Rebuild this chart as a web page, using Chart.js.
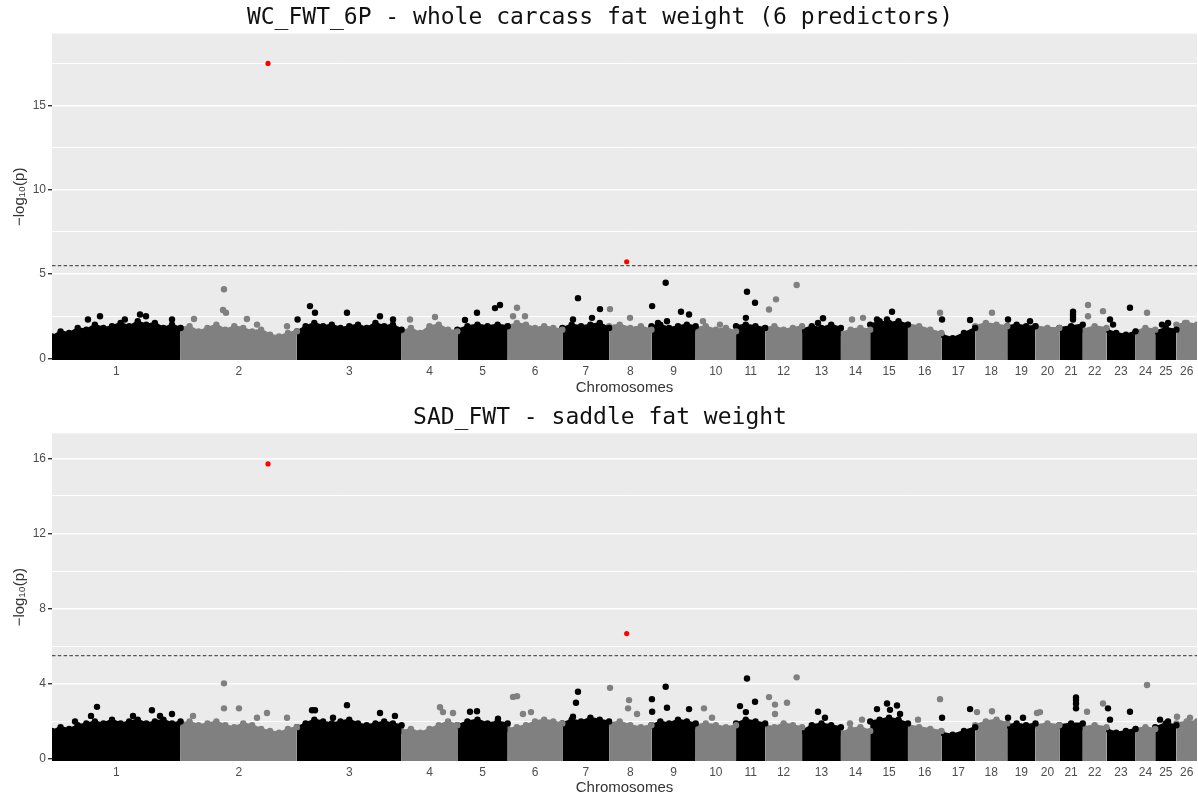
<!DOCTYPE html>
<html>
<head>
<meta charset="utf-8">
<script src="https://cdn.jsdelivr.net/npm/chart.js@4.4.0/dist/chart.umd.min.js"></script>
<style>
html, body { margin: 0; padding: 0; background: #ffffff; overflow: hidden; }
#wrap { position: relative; width: 1198px; height: 799px; overflow: hidden; }
canvas { position: absolute; left: 0; }
</style>
</head>
<body>
<div id="wrap">
<canvas id="wc-chart" width="1201" height="399" style="top:0px"></canvas>
<canvas id="sad-chart" width="1201" height="400" style="top:399px"></canvas>
</div>
<script>
var chromosomes = ['1', '2', '3', '4', '5', '6', '7', '8', '9', '10', '11', '12', '13',
    '14', '15', '16', '17', '18', '19', '20', '21', '22', '23', '24', '25', '26'];
// chromosome lengths in Mb
var chrLengths = [275.4, 249.0, 224.3, 119.3, 107.9, 117.0, 100.1, 90.7, 94.7, 86.5, 62.3, 79.1, 83.1,
    62.7, 80.9, 71.7, 72.3, 68.6, 60.5, 51.2, 50.1, 50.8, 62.3, 42.0, 45.4, 44.1];
var threshold = 5.5;

// top of the dense SNP cloud along each chromosome, -log10(p)
var wcProfile = [
    [1.3, 1.6, 1.5, 1.8, 1.7, 2.0, 1.8, 1.9, 2.1, 1.9, 2.2, 2.0, 2.1, 1.8, 2.0, 1.8],
    [1.8, 1.9, 1.6, 1.8, 2.0, 1.7, 1.9, 1.8, 1.6, 1.7, 1.4, 1.3, 1.5, 1.6],
    [1.6, 1.9, 2.1, 1.9, 2.0, 1.8, 1.9, 2.0, 1.8, 2.1, 1.9, 2.0, 1.7],
    [1.6, 1.8, 1.5, 1.9, 2.0, 1.7, 1.6],
    [1.7, 1.9, 2.0, 1.9, 2.0, 1.9],
    [1.9, 2.1, 2.0, 1.8, 1.9, 1.8, 1.7],
    [1.8, 2.0, 1.9, 2.0, 2.1, 1.8],
    [1.9, 2.0, 1.8, 1.9, 1.7],
    [1.9, 2.0, 1.8, 1.9, 2.0, 1.9],
    [1.8, 1.9, 1.7, 1.8, 1.6],
    [1.9, 2.0, 1.9, 1.8],
    [1.8, 1.9, 1.7, 1.8, 1.9],
    [1.7, 1.9, 1.8, 2.0, 1.8],
    [1.5, 1.7, 1.8, 1.7],
    [2.0, 2.2, 2.1, 2.2, 2.0],
    [2.0, 1.9, 1.7, 1.5],
    [1.4, 1.2, 1.5, 1.8],
    [1.9, 2.1, 2.0, 1.9],
    [1.9, 2.0, 1.9, 1.9],
    [1.9, 1.8, 1.8],
    [1.8, 1.9, 2.0],
    [1.7, 1.9, 1.8],
    [1.7, 1.5, 1.4, 1.6],
    [1.6, 1.8, 1.7],
    [1.6, 1.8, 1.7],
    [2.0, 2.1, 2.0]
];
// [chromosome, position Mb, -log10(p)]
var wcPeaks = [
    [1, 102.8, 2.5], [1, 188.5, 2.6], [1, 201.3, 2.5], [1, 257, 2.3], [1, 77, 2.3], [1, 156, 2.3],
    [2, 92.9, 4.1], [2, 90.8, 2.87], [2, 97.2, 2.7], [2, 28.7, 2.33], [2, 142, 2.33], [2, 163.6, 2.0], [2, 227.9, 1.9],
    [3, 28.1, 3.1], [3, 38.8, 2.7], [3, 1.5, 2.3], [3, 107.3, 2.7], [3, 178, 2.5], [3, 205.9, 2.3],
    [4, 18, 2.3], [4, 71.5, 2.45],
    [5, 16.4, 2.27], [5, 42.1, 2.7], [5, 80.7, 2.98], [5, 91.4, 3.16],
    [6, 19.9, 3.0], [6, 11.4, 2.5], [6, 37, 2.5],
    [7, 33.5, 3.57], [7, 80.6, 2.92], [7, 63.5, 2.4], [7, 22.8, 2.3],
    [8, 2, 2.92], [8, 44.8, 2.4],
    [9, 30.5, 4.48], [9, 1.5, 3.1], [9, 63.3, 2.76], [9, 80.5, 2.6], [9, 14, 2.1], [9, 33.3, 2.2],
    [10, 15.6, 2.2], [10, 52, 2.0],
    [11, 23.4, 3.95], [11, 40.6, 3.3], [11, 21, 2.4],
    [12, 67.5, 4.35], [12, 23.3, 3.5], [12, 8.3, 2.9],
    [13, 44.8, 2.38], [13, 34.1, 2.1],
    [14, 23.8, 2.3], [14, 47.4, 2.4],
    [15, 46.8, 2.76], [15, 36.1, 2.3], [15, 14.6, 2.3],
    [16, 68.7, 2.7],
    [17, 1.3, 2.3], [17, 61.3, 2.27],
    [18, 36, 2.7],
    [19, 1.7, 2.3], [19, 48.8, 2.2],
    [21, 29.2, 2.76], [21, 29.2, 2.6], [21, 29.2, 2.45], [21, 29.2, 2.3],
    [22, 11.2, 3.16], [22, 11.2, 2.5], [22, 43.3, 2.8],
    [23, 50.3, 3.0], [23, 7.5, 2.3], [23, 14, 2.0],
    [24, 24.5, 2.7],
    [25, 14.5, 2.0], [25, 27.5, 2.1],
    [26, 18.4, 2.1]
];
var wcHits = [[2, 187.2, 17.5], [8, 37.7, 5.73]];

var sadProfile = [
    [1.5, 1.7, 1.6, 1.8, 1.9, 2.0, 1.9, 2.1, 1.9, 2.0, 2.1, 1.9, 2.0, 2.1, 1.9, 2.0],
    [1.9, 2.0, 1.8, 1.9, 2.0, 1.8, 1.7, 1.9, 1.8, 1.6, 1.5, 1.4, 1.6, 1.7],
    [1.7, 1.9, 2.1, 2.0, 1.9, 2.0, 2.1, 1.9, 1.8, 1.9, 2.0, 1.9, 1.8],
    [1.5, 1.6, 1.4, 1.6, 1.8, 2.0, 1.8],
    [1.8, 2.0, 2.1, 1.9, 2.0, 1.9],
    [1.6, 1.7, 1.8, 2.0, 2.1, 2.0, 1.9],
    [1.9, 2.1, 2.0, 2.2, 2.1, 2.0],
    [1.9, 2.0, 1.8, 1.7, 1.8],
    [1.8, 2.0, 1.9, 2.1, 2.0, 1.9],
    [1.8, 1.9, 1.8, 1.7, 1.8],
    [1.9, 2.1, 2.0, 1.9],
    [1.8, 1.7, 1.9, 1.8, 1.7],
    [1.5, 1.8, 1.9, 1.8, 1.7],
    [1.4, 1.6, 1.7, 1.5],
    [2.0, 2.1, 2.2, 2.1, 1.9],
    [1.8, 1.7, 1.6, 1.5],
    [1.4, 1.3, 1.5, 1.7],
    [1.8, 2.0, 2.1, 1.9],
    [1.8, 1.9, 1.8, 1.9],
    [1.8, 1.9, 1.8],
    [1.8, 1.9, 1.9],
    [1.7, 1.8, 1.7],
    [1.6, 1.4, 1.5, 1.6],
    [1.6, 1.7, 1.6],
    [1.7, 1.9, 1.8],
    [1.9, 2.0, 2.0]
];
var sadPeaks = [
    [1, 96.4, 2.78], [1, 214, 2.6], [1, 257, 2.4], [1, 173.5, 2.3], [1, 231.3, 2.3], [1, 49.3, 2.0], [1, 83.5, 2.3],
    [2, 92.9, 4.03], [2, 92.9, 2.7], [2, 125, 2.7], [2, 185, 2.45], [2, 163.6, 2.2], [2, 227.9, 2.2], [2, 26.6, 2.3],
    [3, 107.3, 2.87], [3, 32.4, 2.6], [3, 38.8, 2.6], [3, 178, 2.45], [3, 77.4, 2.2], [3, 210, 2.3],
    [4, 82.2, 2.76], [4, 88.6, 2.5], [4, 110, 2.45],
    [5, 27.1, 2.52], [5, 42.1, 2.55], [5, 87.1, 2.15],
    [6, 11.4, 3.31], [6, 19.9, 3.35], [6, 32.7, 2.4], [6, 49.9, 2.5],
    [7, 33.5, 3.58], [7, 29.2, 3.0], [7, 22.8, 2.25],
    [8, 2, 3.79], [8, 42.7, 3.14], [8, 40.6, 2.7], [8, 59.8, 2.4],
    [9, 30.5, 3.85], [9, 1, 3.19], [9, 1.5, 2.52], [9, 33.3, 2.73], [9, 80.5, 2.66],
    [10, 17.8, 2.7], [10, 35, 2.2],
    [11, 23.4, 4.29], [11, 40.6, 3.05], [11, 8.5, 2.82], [11, 21, 2.5],
    [12, 67.5, 4.35], [12, 8.3, 3.3], [12, 21.1, 2.9], [12, 46.8, 3.0], [12, 21.1, 2.4],
    [13, 34.1, 2.52], [13, 49, 2.2],
    [14, 19.5, 1.9], [14, 45.2, 2.1],
    [15, 36.1, 2.96], [15, 57.5, 2.85], [15, 14.6, 2.66], [15, 42.5, 2.62], [15, 64, 2.4],
    [16, 68.7, 3.19], [16, 21.5, 2.1],
    [17, 1.3, 2.2], [17, 61.3, 2.66],
    [18, 3.9, 2.5], [18, 36, 2.55],
    [19, 1.7, 2.2], [19, 33.8, 2.2],
    [20, 3.3, 2.45], [20, 9.7, 2.5],
    [21, 35.6, 3.28], [21, 35.6, 3.15], [21, 35.6, 2.95], [21, 35.6, 2.7],
    [22, 9.1, 2.52], [22, 43.3, 2.96],
    [23, 3.2, 2.7], [23, 50.3, 2.52], [23, 7.5, 2.1],
    [24, 24.5, 3.94],
    [25, 10.3, 2.1], [25, 27.5, 2.0],
    [26, 1.3, 2.25], [26, 29, 2.2]
];
var sadHits = [[2, 187.2, 15.7], [8, 37.7, 6.68]];

var chrStarts = [];
var genomeLength = 0;
chrLengths.forEach(function (len) {
    chrStarts.push(genomeLength);
    genomeLength += len;
});
var chrCentres = chrStarts.map(function (s, i) { return s + chrLengths[i] / 2; });

var tickColor = '#4d4d4d';
var titleColor = '#333333';

function chrColour(i) {
    return i % 2 === 0 ? '#000000' : '#808080';
}

function toPoints(list) {
    return list.map(function (p) {
        return { x: chrStarts[p[0] - 1] + p[1], y: p[2] };
    });
}

var panelBackground = {
    id: 'panelBackground',
    beforeDraw: function (chart) {
        var a = chart.chartArea;
        var ctx = chart.ctx;
        ctx.save();
        ctx.fillStyle = '#ebebeb';
        ctx.fillRect(a.left, a.top, a.right - a.left, a.bottom - a.top);
        ctx.restore();
    }
};

function makeChart(id, setup) {
    var datasets = [
        {
            data: toPoints(setup.hits),
            showLine: false,
            pointRadius: 2.6,
            pointBackgroundColor: '#ff0000',
            pointBorderWidth: 0
        },
        {
            data: [{ x: 0, y: threshold }, { x: genomeLength, y: threshold }],
            borderColor: '#555555',
            borderWidth: 1.2,
            borderDash: [3.5, 2.3],
            pointRadius: 0
        },
        {
            data: toPoints(setup.peaks),
            showLine: false,
            pointRadius: 3.2,
            pointBackgroundColor: setup.peaks.map(function (p) { return chrColour(p[0] - 1); }),
            pointBorderWidth: 0
        }
    ];
    setup.profile.forEach(function (vals, i) {
        var n = vals.length;
        var colour = chrColour(i);
        datasets.push({
            data: vals.map(function (v, j) {
                return { x: chrStarts[i] + chrLengths[i] * j / (n - 1), y: v };
            }),
            fill: 'start',
            backgroundColor: colour,
            borderColor: colour,
            borderWidth: 2,
            tension: 0,
            pointRadius: 3.2,
            pointBackgroundColor: colour,
            pointBorderWidth: 0
        });
    });

    return new Chart(document.getElementById(id), {
        type: 'line',
        data: { datasets: datasets },
        plugins: [panelBackground],
        options: {
            responsive: false,
            animation: false,
            events: [],
            layout: { padding: { left: 0, right: 1, top: 0, bottom: 0 } },
            plugins: {
                legend: { display: false },
                tooltip: { enabled: false },
                title: {
                    display: true,
                    text: setup.title,
                    color: '#111111',
                    font: { family: 'DejaVu Sans Mono', size: 23, weight: 'normal' },
                    padding: setup.titlePadding
                }
            },
            scales: {
                x: {
                    type: 'linear',
                    min: 0,
                    max: genomeLength,
                    afterBuildTicks: function (scale) {
                        scale.ticks = chrCentres.map(function (v) { return { value: v }; });
                    },
                    afterFit: function (scale) {
                        scale.height = setup.xAxisHeight;
                        scale.paddingLeft = 0;
                        scale.paddingRight = 0;
                    },
                    ticks: {
                        autoSkip: false,
                        maxRotation: 0,
                        padding: 4,
                        color: tickColor,
                        font: { family: 'Liberation Sans', size: 12 },
                        callback: function (v, i) { return chromosomes[i]; }
                    },
                    grid: { display: false, drawTicks: false },
                    border: { display: false },
                    title: {
                        display: true,
                        text: 'Chromosomes',
                        color: titleColor,
                        font: { family: 'Liberation Sans', size: 15 },
                        padding: { top: 0, bottom: 2.5 }
                    }
                },
                y: {
                    min: -0.1,
                    max: setup.yMax,
                    afterFit: function (scale) { scale.width = 52; },
                    ticks: {
                        stepSize: setup.yStep,
                        includeBounds: false,
                        autoSkip: false,
                        padding: 2,
                        color: tickColor,
                        font: { family: 'Liberation Sans', size: 12 },
                        callback: function (v) { return v % setup.yMajor === 0 ? v : ''; }
                    },
                    grid: {
                        color: '#ffffff',
                        lineWidth: function (ctx) {
                            return ctx.tick && ctx.tick.value % setup.yMajor === 0 ? 1.4 : 1;
                        },
                        tickColor: function (ctx) {
                            return ctx.tick && ctx.tick.value % setup.yMajor === 0 ? '#333333' : 'rgba(0,0,0,0)';
                        },
                        tickLength: 4
                    },
                    border: { display: false },
                    title: {
                        display: true,
                        text: '\u2212log\u2081\u2080(p)',
                        color: titleColor,
                        font: { family: 'Liberation Sans', size: 15 },
                        padding: { top: 11, bottom: 0 }
                    }
                }
            }
        }
    });
}

makeChart('wc-chart', {
    title: 'WC_FWT_6P - whole carcass fat weight (6 predictors)',
    profile: wcProfile,
    peaks: wcPeaks,
    hits: wcHits,
    yMax: 19.27,
    yStep: 2.5,
    yMajor: 5,
    xAxisHeight: 39,
    titlePadding: { top: 4, bottom: 2 }
});

makeChart('sad-chart', {
    title: 'SAD_FWT - saddle fat weight',
    profile: sadProfile,
    peaks: sadPeaks,
    hits: sadHits,
    yMax: 17.33,
    yStep: 2,
    yMajor: 4,
    xAxisHeight: 38,
    titlePadding: { top: 5, bottom: 1.7 }
});
</script>
</body>
</html>
